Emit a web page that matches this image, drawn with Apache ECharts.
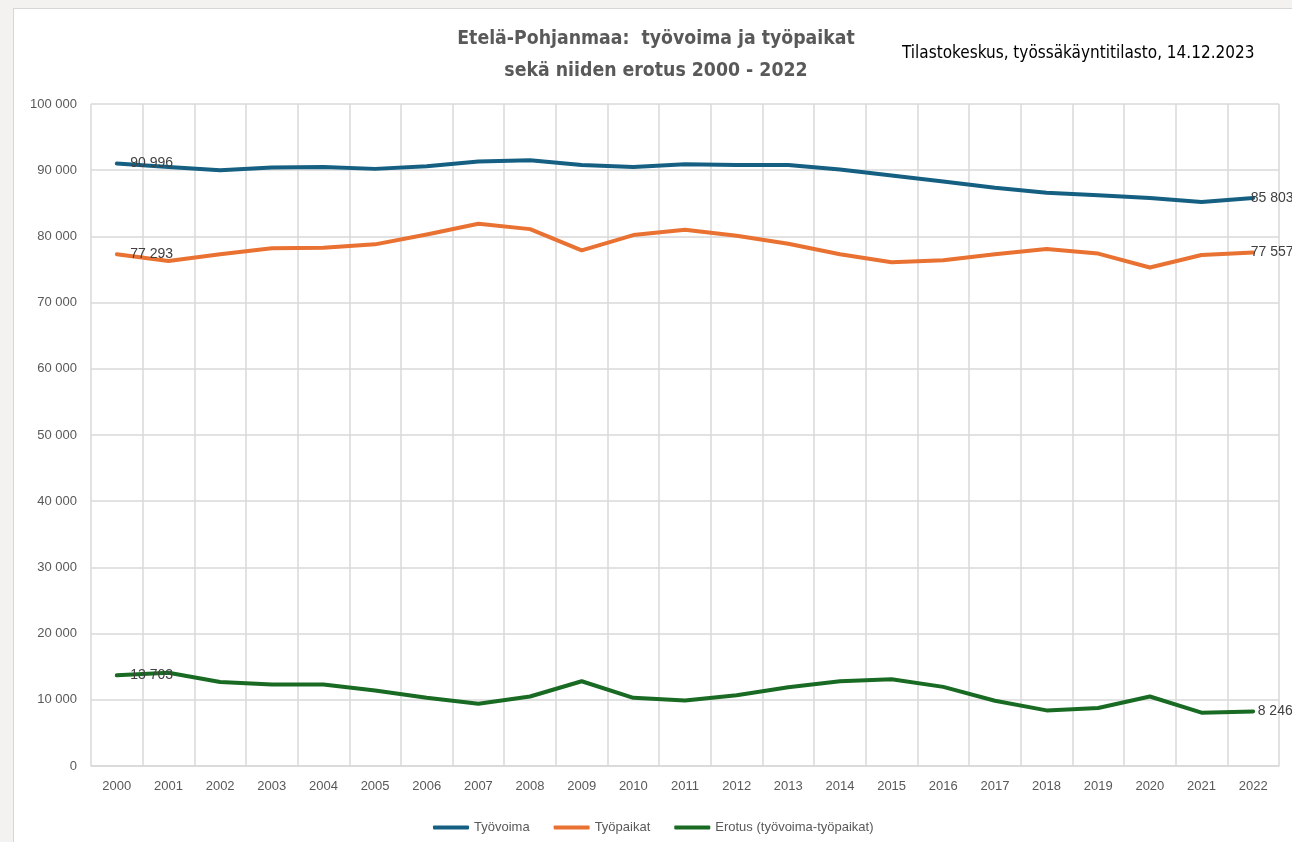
<!DOCTYPE html>
<html>
<head>
<meta charset="utf-8">
<script src="https://cdn.jsdelivr.net/npm/echarts@6/dist/echarts.min.js"></script>
<style>
  html, body { margin: 0; padding: 0; width: 1292px; height: 842px; overflow: hidden; background: #f3f2f0; }
  #frame { position: absolute; left: 13px; top: 8px; width: 1300px; height: 860px; background: #ffffff; border: 1px solid #d6d6d6; box-sizing: border-box; }
  #chart { position: absolute; left: 0; top: 0; width: 1292px; height: 842px; }
</style>
</head>
<body>
<div id="frame"></div>
<div id="chart"></div>
<script>
const years = ['2000','2001','2002','2003','2004','2005','2006','2007','2008','2009','2010','2011','2012','2013','2014','2015','2016','2017','2018','2019','2020','2021','2022'];
const tyovoima = [90996, 90500, 90000, 90400, 90500, 90200, 90600, 91300, 91500, 90800, 90500, 90900, 90800, 90800, 90100, 89200, 88300, 87350, 86600, 86200, 85800, 85200, 85803];
const tyopaikat = [77293, 76300, 77300, 78200, 78300, 78800, 80300, 81900, 81100, 77900, 80200, 81000, 80100, 78900, 77300, 76100, 76400, 77300, 78100, 77400, 75300, 77200, 77557];
const erotus = [13703, 14100, 12700, 12300, 12300, 11400, 10300, 9400, 10500, 12800, 10300, 9900, 10700, 11900, 12800, 13100, 11950, 9850, 8400, 8750, 10500, 8050, 8246];
const seriesNames = ['Työvoima', 'Työpaikat', 'Erotus (työvoima-työpaikat)'];
const colors = ['#156082', '#E97132', '#196B24'];
const titleText = 'Etelä-Pohjanmaa:  työvoima ja työpaikat\nsekä niiden erotus 2000 - 2022';
const sourceText = 'Tilastokeskus, työssäkäyntitilasto, 14.12.2023';

function fmt(v) {
  return String(Math.round(v)).replace(/\B(?=(\d{3})+(?!\d))/g, ' ');
}

function withLabels(arr, endDistance) {
  const last = arr.length - 1;
  return arr.map((v, i) => {
    if (i === 0) return { value: v, label: { show: true, distance: 13 } };
    if (i === last) return { value: v, label: { show: true, distance: endDistance } };
    return v;
  });
}

const chart = echarts.init(document.getElementById('chart'), null, { renderer: 'canvas' });
const labelStyle = {
  show: false,
  position: 'right',
  offset: [0, 2],
  color: '#404040',
  fontSize: 14,
  fontFamily: 'Liberation Sans, Arial, sans-serif',
  formatter: p => fmt(p.value)
};

function mkSeries(name, data, color, endDist) {
  return {
    name: name,
    type: 'line',
    data: withLabels(data, endDist),
    symbol: 'circle',
    symbolSize: 1,
    showSymbol: true,
    smooth: false,
    lineStyle: { color: color, width: 4, cap: 'round', join: 'round' },
    itemStyle: { color: color },
    label: labelStyle,
    labelLayout: { hideOverlap: false },
    emphasis: { disabled: true },
    z: 3
  };
}

chart.setOption({
  backgroundColor: 'transparent',
  animation: false,
  color: colors,
  grid: { left: 91, right: 13, top: 104, bottom: 76, containLabel: false },
  graphic: [
    {
      type: 'text',
      x: 656, y: 23,
      style: {
        text: titleText,
        fill: '#595959',
        font: 'bold 19.3px "DejaVu Sans Condensed", "DejaVu Sans", sans-serif',
        align: 'center',
        verticalAlign: 'top',
        lineHeight: 32
      }
    },
    {
      type: 'text',
      x: 902, y: 54,
      style: {
        text: sourceText,
        fill: '#000000',
        font: '17px "DejaVu Sans Condensed", "DejaVu Sans", sans-serif',
        align: 'left',
        verticalAlign: 'middle'
      }
    }
  ],
  legend: {
    data: seriesNames.map(n => ({ name: n, icon: 'roundRect' })),
    left: 428,
    top: 816,
    itemWidth: 36,
    itemHeight: 4,
    itemGap: 24,
    textStyle: { color: '#595959', fontSize: 13, fontFamily: 'Liberation Sans, Arial, sans-serif' },
    selectedMode: false
  },
  xAxis: {
    type: 'category',
    data: years,
    boundaryGap: true,
    axisLine: { show: true, lineStyle: { color: '#d9d9d9', width: 1.5 } },
    axisTick: { show: false },
    splitLine: { show: true, lineStyle: { color: '#d9d9d9', width: 1.5 } },
    axisLabel: { color: '#595959', fontSize: 13, margin: 14, fontFamily: 'Liberation Sans, Arial, sans-serif', interval: 0 }
  },
  yAxis: {
    type: 'value',
    min: 0,
    max: 100000,
    interval: 10000,
    axisLine: { show: false },
    axisTick: { show: false },
    splitLine: { show: true, lineStyle: { color: '#d9d9d9', width: 1.5 } },
    axisLabel: { color: '#595959', fontSize: 13, margin: 14, fontFamily: 'Liberation Sans, Arial, sans-serif', formatter: v => fmt(v) }
  },
  series: [
    mkSeries(seriesNames[0], tyovoima, colors[0], -3),
    mkSeries(seriesNames[1], tyopaikat, colors[1], -3),
    mkSeries(seriesNames[2], erotus, colors[2], 4)
  ]
});
</script>
</body>
</html>
